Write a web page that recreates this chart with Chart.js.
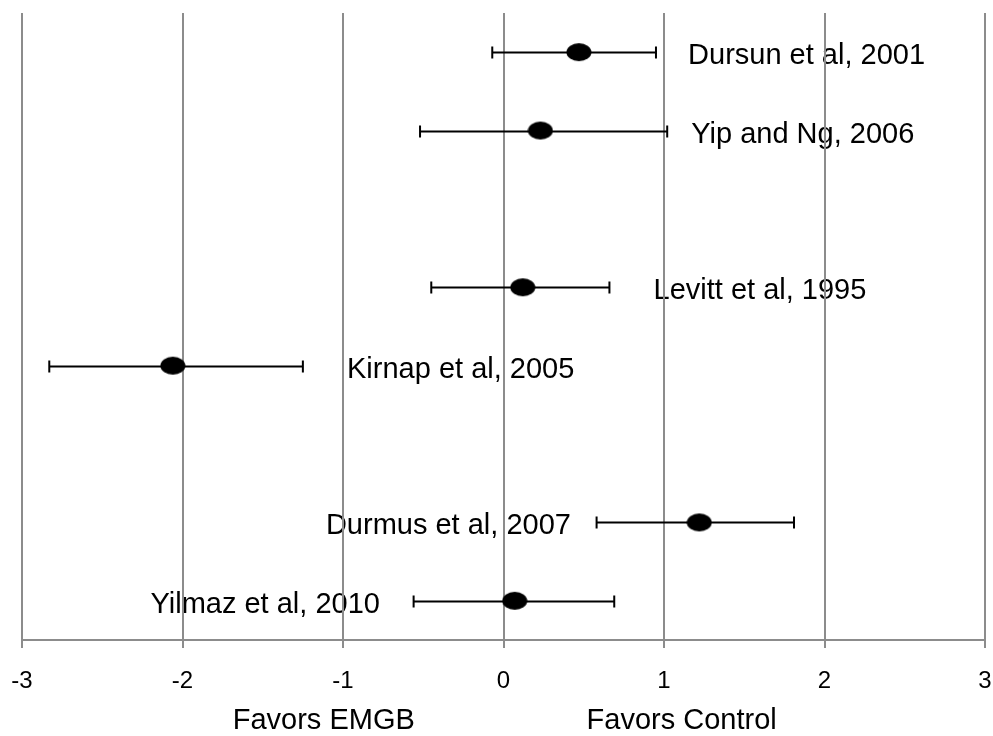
<!DOCTYPE html>
<html>
<head>
<meta charset="utf-8">
<script src="https://cdn.jsdelivr.net/npm/chart.js@4.4.0/dist/chart.umd.min.js"></script>
<style>
  html, body { margin: 0; padding: 0; background: #fff; overflow: hidden; }
  #wrap { width: 998px; height: 736px; }
</style>
</head>
<body>
<div id="wrap"><canvas id="chart"></canvas></div>
<script>
// forest plot data, top to bottom
const studies = ['Dursun et al, 2001', 'Yip and Ng, 2006', 'Levitt et al, 1995',
                 'Kirnap et al, 2005', 'Durmus et al, 2007', 'Yilmaz et al, 2010'];
const effect = [0.47, 0.23, 0.12, -2.06, 1.22, 0.07];
const lower  = [-0.07, -0.52, -0.45, -2.83, 0.58, -0.56];
const upper  = [0.95, 1.02, 0.66, -1.25, 1.81, 0.69];
const rows   = [7.5, 6.5, 4.5, 3.5, 1.5, 0.5];
const xTicks = [-3, -2, -1, 0, 1, 2, 3];
const sideTitles = ['Favors EMGB', 'Favors Control'];

const FONT = '"Liberation Sans", Arial, sans-serif';
const GRID = '#8c8c8c';

// label anchors (data units on x): where each text starts / ends
const labelPlace = [
  { x: 1.15, align: 'left' },
  { x: 1.17, align: 'left' },
  { x: 0.935, align: 'left' },
  { x: -0.975, align: 'left' },
  { x: 0.42, align: 'right' },
  { x: -0.77, align: 'right' }
];
const titleAt = [-1.12, 1.11];

// ellipse marker
const dot = document.createElement('canvas');
dot.width = 26; dot.height = 20;
(function () {
  const c = dot.getContext('2d');
  c.fillStyle = '#000';
  c.beginPath();
  c.ellipse(13, 10, 12.5, 9, 0, 0, Math.PI * 2);
  c.fill();
})();

const forestExtras = {
  id: 'forestExtras',
  beforeDraw(chart) {
    const { ctx, scales: { x, y } } = chart;
    ctx.save();
    ctx.fillStyle = '#000';
    ctx.font = '29px ' + FONT;
    ctx.textBaseline = 'middle';
    studies.forEach((s, i) => {
      ctx.textAlign = labelPlace[i].align;
      ctx.fillText(s, x.getPixelForValue(labelPlace[i].x), y.getPixelForValue(rows[i]) + 4);
    });
    ctx.restore();
  },
  beforeDatasetsDraw(chart) {
    const { ctx, scales: { x, y } } = chart;
    ctx.save();
    ctx.strokeStyle = '#000';
    ctx.lineWidth = 2;
    rows.forEach((r, i) => {
      const py = Math.round(y.getPixelForValue(r)) + 0.5;
      const x1 = x.getPixelForValue(lower[i]);
      const x2 = x.getPixelForValue(upper[i]);
      ctx.beginPath();
      ctx.moveTo(x1, py); ctx.lineTo(x2, py);
      ctx.moveTo(x1, py - 6); ctx.lineTo(x1, py + 6);
      ctx.moveTo(x2, py - 6); ctx.lineTo(x2, py + 6);
      ctx.stroke();
    });
    ctx.restore();
  },
  afterDraw(chart) {
    const { ctx, scales: { x } } = chart;
    ctx.save();
    ctx.fillStyle = '#000';
    ctx.font = '29px ' + FONT;
    ctx.textAlign = 'center';
    ctx.textBaseline = 'middle';
    sideTitles.forEach((t, i) => ctx.fillText(t, x.getPixelForValue(titleAt[i]), 721));
    ctx.restore();
  }
};

new Chart(document.getElementById('chart').getContext('2d'), {
  type: 'scatter',
  data: {
    datasets: [{
      data: effect.map((v, i) => ({ x: v, y: rows[i] })),
      pointStyle: dot,
      pointRadius: 12,
      pointHoverRadius: 12
    }]
  },
  options: {
    responsive: true,
    maintainAspectRatio: false,
    animation: false,
    layout: { padding: { left: 22, right: 4, top: 8, bottom: 0 } },
    plugins: { legend: { display: false }, tooltip: { enabled: false } },
    scales: {
      x: {
        type: 'linear',
        min: -3, max: 3,
        afterBuildTicks: s => { s.ticks = xTicks.map(v => ({ value: v })); },
        afterFit: s => { s.height = 96; s.paddingLeft = 0; s.paddingRight = 0; },
        grid: { color: GRID, lineWidth: 2, tickLength: 8, drawTicks: true },
        border: { color: GRID, width: 2 },
        ticks: { color: '#000', font: { family: FONT, size: 24 }, padding: 19, maxRotation: 0 }
      },
      y: {
        display: false,
        min: 0, max: 8
      }
    }
  },
  plugins: [forestExtras]
});
</script>
</body>
</html>
